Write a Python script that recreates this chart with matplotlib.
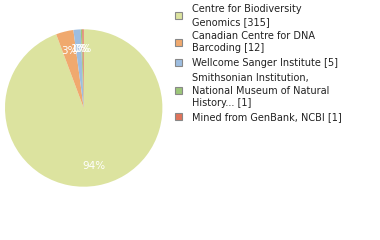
import math
import matplotlib
matplotlib.use("Agg")
import matplotlib.pyplot as plt
from matplotlib.patches import Rectangle

labels = ["Centre for Biodiversity\nGenomics [315]",
          "Canadian Centre for DNA\nBarcoding [12]",
          "Wellcome Sanger Institute [5]",
          "Smithsonian Institution,\nNational Museum of Natural\nHistory... [1]",
          "Mined from GenBank, NCBI [1]"]
values = [315, 12, 5, 1, 1]
colors = ["#dce39f", "#f0a96e", "#9dbde0", "#9cc679", "#e0735a"]

W, H = 380, 240
fig = plt.figure(figsize=(W / 100, H / 100), dpi=100)
cx, cy, r = 83.7, 108, 78.7
ax = fig.add_axes([(cx - r) / W, (H - cy - r) / H, 2 * r / W, 2 * r / H])
wedges, texts, autotexts = ax.pie(values, colors=colors, startangle=90, counterclock=False,
                                  autopct=lambda p: "%d%%" % int(p), pctdistance=0.75,
                                  wedgeprops=dict(linewidth=0),
                                  textprops=dict(color="white", fontsize=7.5))
ax.set_xlim(-1, 1)
ax.set_ylim(-1, 1)
ax.set_aspect("auto")
ax.axis("off")

# legend
text_x = 192
sq_x = 174.5
sq = 7
text_tops = [3, 29.5, 56.5, 71.5, 110.5]
line_h = 12.7
for i, (lab, col) in enumerate(zip(labels, colors)):
    n = lab.count("\n") + 1
    top = text_tops[i]
    mid = top + n * line_h / 2
    fig.add_artist(Rectangle((sq_x / W, (H - mid - sq / 2) / H), sq / W, sq / H,
                             transform=fig.transFigure, facecolor=col,
                             edgecolor="#888888", linewidth=0.8))
    fig.text(text_x / W, (H - mid) / H, lab, fontsize=7.0, color="#222222",
             va="center", ha="left", linespacing=1.3)

fig.savefig("out.png", dpi=100)
